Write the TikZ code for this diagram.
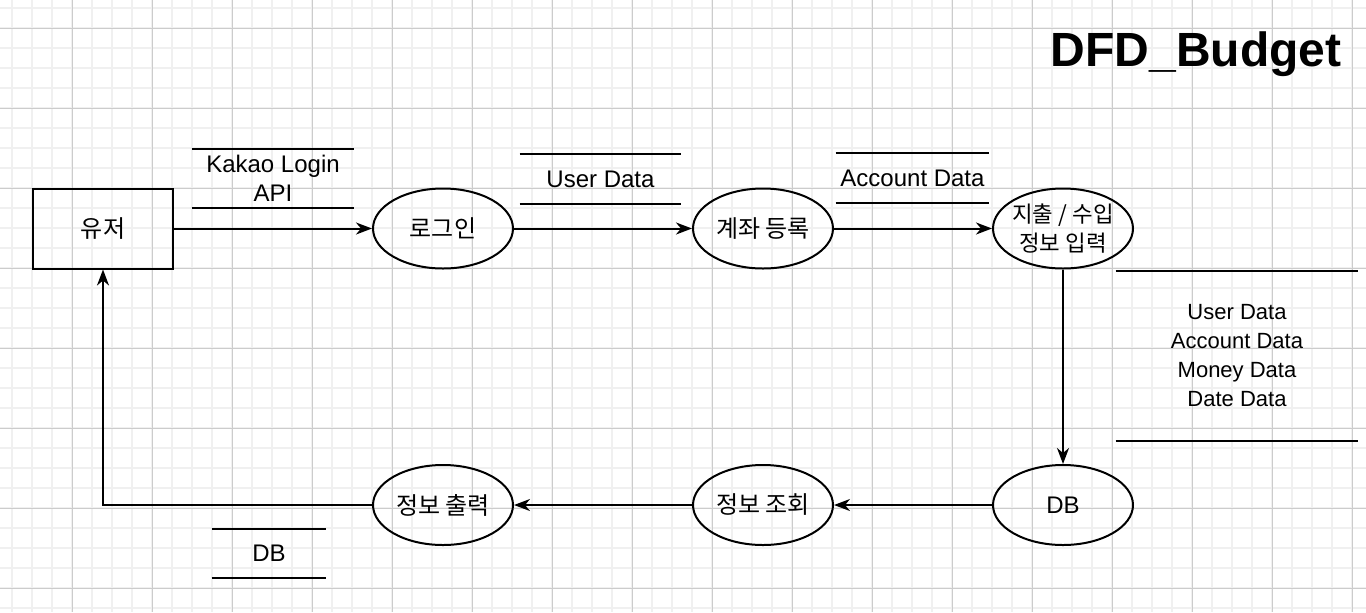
\documentclass[tikz,border=0pt]{standalone}
\usepackage{fontspec}
\setmainfont{Liberation Sans}
\newfontfamily\kr{Noto Sans CJK KR}
\usetikzlibrary{arrows.meta,shapes.geometric,positioning}

\begin{document}
\begin{tikzpicture}[x=0.5pt,y=-0.5pt,
  txt/.style={font=\fontsize{12}{14.5}\selectfont, align=center},
  proc/.style={txt, draw, ellipse, line width=1pt, minimum width=70pt, minimum height=40pt, inner sep=0pt},
  ent/.style={txt, draw, rectangle, line width=1pt, minimum width=70pt, minimum height=40pt, inner sep=0pt},
  store/.style={txt, inner sep=0pt},
  flow/.style={-{Stealth[length=8pt,width=6pt,inset=2.5pt]}, line width=1pt}]
\useasboundingbox (0,0) rectangle (1366,612);
\fill[white] (0,0) rectangle (1366,612);
% grid
\foreach \gx in {12,32,...,1352} \draw[line width=1pt, black!6] (\gx,0) -- (\gx,612);
\foreach \gy in {8,28,...,608} \draw[line width=1pt, black!6] (0,\gy) -- (1366,\gy);
\foreach \gx in {72,152,...,1352} \draw[line width=0.5pt, black!20] (\gx,0) -- (\gx,612);
\foreach \gy in {28,108,...,588} \draw[line width=0.5pt, black!20] (0,\gy) -- (1366,\gy);

% title
\node[font=\fontsize{24}{28}\selectfont\bfseries, anchor=base east, inner sep=0pt] (title) at (1342,66) {DFD\_Budget};

% entity and processes
\node[ent] (user) at (103,228.5) {\kr 유저};
\node[proc] (login) at (443,228.5) {\kr 로그인};
\node[proc] (account) at (763,228.5) {\kr 계좌 등록};
\node[proc, font=\fontsize{11.2}{14.5}\selectfont, inner sep=-7pt] (input) at (1063,228.5) {\kr 지출 / 수입\\\kr 정보 입력};
\node[proc] (db) at (1063,505) {DB};
\node[proc] (inquiry) at (763,505) {\kr 정보 조회};
\node[proc] (output) at (443,505) {\kr 정보 출력};

% data labels
\node[store, minimum width=81pt, minimum height=29.5pt] (kakao) at (273,178.5) {Kakao Login\\API};
\node[store, minimum width=80.5pt, minimum height=25pt] (userdata) at (600.5,179) {User Data};
\node[store, minimum width=76.5pt, minimum height=25pt] (accdata) at (912.5,178) {Account Data};
\node[store, font=\fontsize{11}{14.5}\selectfont, minimum width=121pt, minimum height=85pt] (alldata) at (1237,356) {User Data\\Account Data\\Money Data\\Date Data};
\node[store, minimum width=57pt, minimum height=24.5pt] (dbdata) at (269,553.5) {DB};
\foreach \s in {kakao,userdata,accdata,alldata,dbdata} {
  \draw[line width=1pt] (\s.north west) -- (\s.north east);
  \draw[line width=1pt] (\s.south west) -- (\s.south east);
}

% flows
\draw[flow] (user) -- (login);
\draw[flow] (login) -- (account);
\draw[flow] (account) -- (input);
\draw[flow] (input) -- (db);
\draw[flow] (db) -- (inquiry);
\draw[flow] (inquiry) -- (output);
\draw[flow] (output) -| (user);
\end{tikzpicture}
\end{document}
